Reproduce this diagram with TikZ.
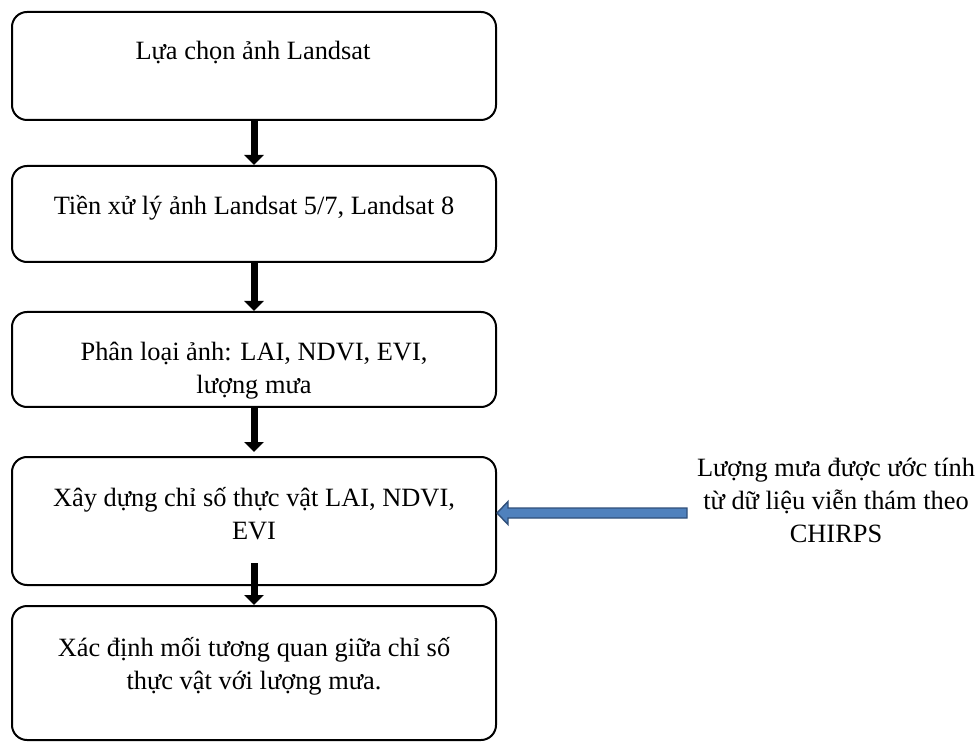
\documentclass[tikz,border=0pt]{standalone}
\usepackage{fontspec}
\setmainfont{Liberation Serif}
\usetikzlibrary{arrows.meta, positioning, calc}
\definecolor{blockfill}{HTML}{4F81BD}
\definecolor{blockline}{HTML}{2F4F7A}

\begin{document}
\begin{tikzpicture}[
  x=0.5pt, y=-0.5pt,
  stepbox/.style={draw=black, line width=1pt, rounded corners=7.5pt, minimum width=242pt, inner sep=0pt},
  steptext/.style={align=center, inner sep=0pt, font=\fontsize{13.2}{16.5}\selectfont},
  flow/.style={line width=3.5pt, draw=black, -{Triangle[length=5pt, width=9.5pt]}},
  rainarrow/.style={fill=blockfill, draw=blockline, line width=0.7pt, line join=miter}
  ]
  \useasboundingbox (0,0) rectangle (978,742);

  % Boxes
  \node[stepbox, minimum height=54pt] (select) at (254,66) {};
  \node[stepbox, minimum height=48pt] (prep) at (254,214) {};
  \node[stepbox, minimum height=47.5pt] (classify) at (254,359.5) {};
  \node[stepbox, minimum height=64pt] (index) at (254,521) {};
  \node[stepbox, minimum height=67pt] (relate) at (254,673) {};

  % Texts
  \node[steptext] (selectT) at (253,53) {Lựa chọn ảnh Landsat};
  \node[steptext] (prepT) at (254,208) {Tiền xử lý ảnh Landsat 5/7, Landsat 8};
  \node[steptext] (classifyT) at (254,371) {Phân loại ảnh: LAI, NDVI, EVI,\\lượng mưa};
  \node[steptext] (indexT) at (254,514) {Xây dựng chỉ số thực vật LAI, NDVI,\\EVI};
  \node[steptext] (relateT) at (254,666) {Xác định mối tương quan giữa chỉ số\\thực vật với lượng mưa.};
  \node[steptext] (rain) at (836,500) {Lượng mưa được ước tính\\từ dữ liệu viễn thám theo\\CHIRPS};

  % Arrows
  \draw[flow] (select.south) -- (prep.north);
  \draw[flow] (prep.south) -- (classify.north);
  \draw[flow] (classify.south) -- ($(index.north)+(0,-4)$);
  \draw[flow] ($(index.south)+(0,-23)$) -- (relate.north);

  % Rain input arrow
  \coordinate (rainTail) at (687,513);
  \coordinate (rainTip) at (index.east |- rainTail);
  \draw[rainarrow] (rainTip) -- ($(rainTip)+(11,-11.5)$) -- ($(rainTip)+(11,-5)$)
    -- ($(rainTail)+(0,-5)$) -- ($(rainTail)+(0,5)$) -- ($(rainTip)+(11,5)$)
    -- ($(rainTip)+(11,11.5)$) -- cycle;

\end{tikzpicture}
\end{document}
